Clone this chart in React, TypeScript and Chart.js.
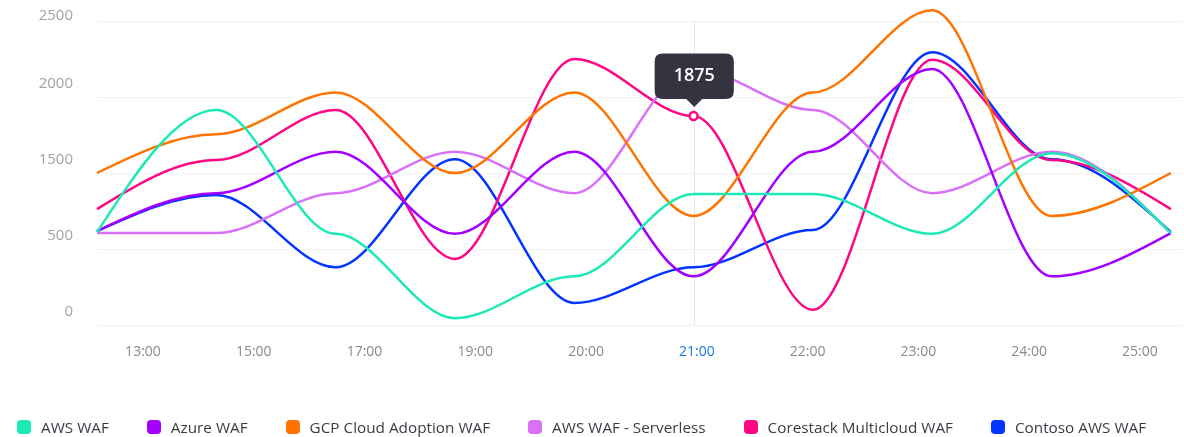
import React, { useEffect, useRef } from 'react';
import { Chart, registerables } from 'chart.js';

Chart.register(...registerables);

const X_LABELS = ['13:00', '15:00', '17:00', '19:00', '20:00', '21:00', '22:00', '23:00', '24:00', '25:00'];
const Y_TICKS = [0, 500, 1500, 2000, 2500];

const AWS_WAF = [720, 1915, 700, 45, 320, 1225, 1225, 700, 1630, 710];
const AZURE_WAF = [735, 1235, 1640, 700, 1640, 320, 1640, 2185, 320, 710];
const GCP_WAF = [1500, 1755, 2030, 1500, 2030, 935, 2030, 2570, 935, 1500];
const AWS_SERVERLESS = [710, 710, 1235, 1640, 1235, 2185, 1915, 1235, 1640, 710];
const CORESTACK_WAF = [1025, 1585, 1915, 435, 2250, 1875, 100, 2245, 1585, 1025];
const CONTOSO_WAF = [735, 1210, 380, 1590, 145, 380, 750, 2295, 1590, 725];

const SERIES = [
  { name: 'AWS WAF', color: '#1de9b6', values: AWS_WAF },
  { name: 'Azure WAF', color: '#a400ff', values: AZURE_WAF },
  { name: 'GCP Cloud Adoption WAF', color: '#ff7300', values: GCP_WAF },
  { name: 'AWS WAF - Serverless', color: '#da70f6', values: AWS_SERVERLESS },
  { name: 'Corestack Multicloud WAF', color: '#fc0785', values: CORESTACK_WAF },
  { name: 'Contoso AWS WAF', color: '#0434ff', values: CONTOSO_WAF },
];

const ACTIVE_SERIES = 4;
const ACTIVE_INDEX = 5;
const FONT = "'Open Sans', 'DejaVu Sans', sans-serif";

// piecewise mapping from value to the evenly spaced y-axis ticks
function toAxis(v: number): number {
  const n = Y_TICKS.length;
  for (let i = 0; i < n - 1; i++) {
    if (v <= Y_TICKS[i + 1] || i === n - 2) {
      return i + (v - Y_TICKS[i]) / (Y_TICKS[i + 1] - Y_TICKS[i]);
    }
  }
  return 0;
}

// smooth curve: flat tangents at inner points, monotone-style end tangents
const smoothCurve = {
  id: 'smoothCurve',
  afterDatasetsUpdate(chart: any) {
    chart.data.datasets.forEach((_: any, di: number) => {
      const meta = chart.getDatasetMeta(di);
      const pts = meta.data as any[];
      const n = pts.length;
      for (let k = 0; k < n; k++) {
        const p = pts[k];
        const prev = pts[k - 1];
        const next = pts[k + 1];
        let m = 0;
        if (k === 0 && next) m = (1.5 * (next.y - p.y)) / (next.x - p.x);
        if (k === n - 1 && prev) m = (1.5 * (p.y - prev.y)) / (p.x - prev.x);
        if (prev) {
          const h = (p.x - prev.x) / 3;
          p.cp1x = p.x - h;
          p.cp1y = p.y - m * h;
        } else {
          p.cp1x = p.x;
          p.cp1y = p.y;
        }
        if (next) {
          const h = (next.x - p.x) / 3;
          p.cp2x = p.x + h;
          p.cp2y = p.y + m * h;
        } else {
          p.cp2x = p.x;
          p.cp2y = p.y;
        }
      }
      if (meta.dataset) {
        meta.dataset._pointsUpdated = true;
        meta.dataset._path = undefined;
      }
    });
  },
};

// keep the top y label inside the canvas
const clampYLabels = {
  id: 'clampYLabels',
  beforeDraw(chart: any) {
    const scale = chart.scales.y;
    if (!scale || !scale.getLabelItems) return;
    const items = scale.getLabelItems();
    items.forEach((it: any) => {
      const tr = it.options && it.options.translation;
      if (tr && tr[1] < 16) tr[1] = 16;
    });
  },
};

const crosshair = {
  id: 'crosshair',
  beforeDatasetsDraw(chart: any) {
    const act = chart.getActiveElements();
    if (!act.length) return;
    const x = act[0].element.x;
    const { top, bottom } = chart.chartArea;
    const ctx = chart.ctx;
    ctx.save();
    ctx.strokeStyle = '#e6e6e9';
    ctx.lineWidth = 1;
    ctx.beginPath();
    ctx.moveTo(Math.round(x) + 0.5, top);
    ctx.lineTo(Math.round(x) + 0.5, bottom);
    ctx.stroke();
    ctx.restore();
  },
};

export default function App() {
  const ref = useRef<HTMLCanvasElement | null>(null);

  useEffect(() => {
    if (!ref.current) return;
    const chart = new Chart(ref.current, {
      type: 'line',
      data: {
        datasets: SERIES.map((s) => ({
          label: s.name,
          data: s.values.map((v, i) => ({ x: i, y: toAxis(v) })),
          borderColor: s.color,
          backgroundColor: s.color,
          borderWidth: 2.5,
          fill: false,
          cubicInterpolationMode: 'monotone' as const,
          pointRadius: 0,
          pointHoverRadius: 4,
          pointHoverBorderWidth: 2.5,
          pointHoverBackgroundColor: '#ffffff',
          pointHoverBorderColor: s.color,
          clip: false as any,
        })),
      },
      options: {
        animation: false,
        responsive: true,
        maintainAspectRatio: false,
        events: [],
        layout: { padding: { top: 21, left: 0, right: 0, bottom: 56 } },
        scales: {
          x: {
            type: 'linear',
            display: false,
            min: 0,
            max: 9.1,
          },
          x2: {
            type: 'linear',
            position: 'bottom',
            min: -0.415,
            max: 9.387,
            afterBuildTicks: (scale: any) => {
              scale.ticks = X_LABELS.map((_, i) => ({ value: i }));
            },
            afterFit: (scale: any) => {
              scale.height = 56;
              scale.paddingLeft = 0;
              scale.paddingRight = 0;
            },
            grid: { display: false, drawTicks: false },
            border: { display: false },
            ticks: {
              autoSkip: false,
              maxRotation: 0,
              padding: 19,
              font: { family: FONT, size: 14 },
              color: (ctx: any) => (ctx.index === ACTIVE_INDEX ? '#1877e0' : '#8a8a8e'),
              callback: (value: any) => X_LABELS[value as number] ?? '',
            },
          },
          y: {
            type: 'linear',
            min: 0,
            max: Y_TICKS.length - 1,
            afterFit: (scale: any) => {
              scale.width = 97;
              scale.paddingTop = 0;
              scale.paddingBottom = 0;
            },
            grid: { color: '#f2f2f4', drawTicks: false },
            border: { display: false },
            ticks: {
              stepSize: 1,
              padding: 24,
              labelOffset: -13,
              font: { family: FONT, size: 15 },
              color: '#a3a3a8',
              callback: (value: any) => String(Y_TICKS[value as number] ?? ''),
            },
          },
        },
        plugins: {
          legend: { display: false },
          tooltip: {
            enabled: true,
            backgroundColor: '#353340',
            displayColors: false,
            bodyColor: '#ffffff',
            bodyFont: { family: FONT, size: 18, weight: 600 as any },
            padding: { top: 12, bottom: 12, left: 19, right: 19 },
            cornerRadius: 8,
            caretSize: 8,
            caretPadding: 9,
            xAlign: 'center',
            yAlign: 'bottom',
            callbacks: {
              title: () => '',
              label: (ctx: any) => String(SERIES[ctx.datasetIndex].values[ctx.dataIndex]),
            },
          },
        },
      },
      plugins: [smoothCurve, clampYLabels, crosshair],
    } as any);

    const active = [{ datasetIndex: ACTIVE_SERIES, index: ACTIVE_INDEX }];
    chart.setActiveElements(active);
    chart.tooltip?.setActiveElements(active, { x: 0, y: 0 });
    chart.update();

    return () => chart.destroy();
  }, []);

  return (
    <div style={{ position: 'absolute', left: 0, top: 0, width: 1184, height: 437, background: '#ffffff' }}>
      <canvas ref={ref} />
      <div
        style={{
          position: 'absolute',
          left: 17,
          top: 418,
          height: 18,
          display: 'flex',
          alignItems: 'center',
          whiteSpace: 'nowrap',
          fontFamily: FONT,
          fontSize: 15.3,
          color: '#3b3b44',
        }}
      >
        {SERIES.map((s, i) => (
          <div key={s.name} style={{ display: 'flex', alignItems: 'center', marginRight: i < SERIES.length - 1 ? 38 : 0 }}>
            <span
              style={{
                display: 'inline-block',
                width: 14,
                height: 14,
                borderRadius: 4,
                background: s.color,
                marginRight: 10,
              }}
            />
            <span style={{ lineHeight: '18px' }}>{s.name}</span>
          </div>
        ))}
      </div>
    </div>
  );
}
